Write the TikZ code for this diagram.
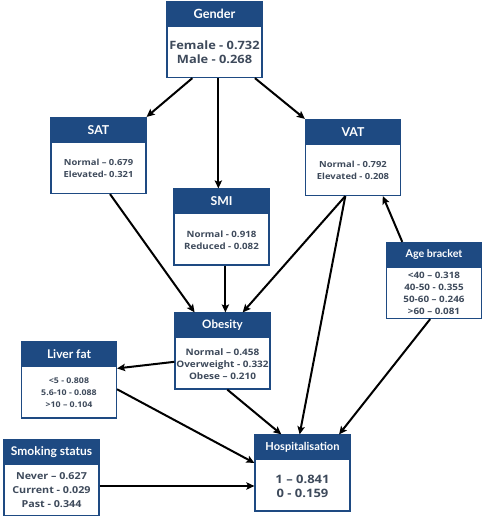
\documentclass[tikz,border=0pt]{standalone}
\usepackage{fontspec}
\setmainfont{Lato}
\newfontfamily\bodyfont[FakeStretch=1.12]{Open Sans}
\usetikzlibrary{arrows.meta,calc}
\definecolor{hdrblue}{HTML}{1E4A82}
\definecolor{bodytxt}{HTML}{3E4A5B}
\newcommand\mkbox[7]{%
  \node[boxbody] (#1) at (#2,#3) {};
  \fill[hdrblue] (#1.north west) rectangle ([yshift=-19.5pt]#1.north east);
  \node[hdrtext,font=\bfseries\fontsize{#7}{10}\selectfont] (#1-t) at ($(#1.north)+(0,-9.75pt)$) {#4};
  \node[bodytext,#6] (#1-b) at ($(#1.center)+(0,-9.75pt)$) {#5};
}
\begin{document}
\begin{tikzpicture}[x=0.75pt,y=-0.75pt,
  boxbody/.style={draw=hdrblue, line width=0.9pt, fill=white, minimum width=71.25pt, minimum height=57pt, inner sep=0pt},
  hdrtext/.style={text=white, inner sep=0pt},
  bodytext/.style={text=bodytxt, align=center, inner sep=0pt},
  fnt/.style 2 args={font=\bodyfont\bfseries\fontsize{#1}{#2}\selectfont},
  arr/.style={-{Stealth[length=6pt,width=5.5pt,inset=1.2pt]}, line width=1.5pt, black}]
\useasboundingbox (0,0) rectangle (484,519);

\mkbox{gender}{214.5}{39.5}{Gender}{Female - 0.732\\Male - 0.268}{fnt={8.6}{10.5}}{9.5}
\mkbox{sat}{98.5}{155.5}{SAT}{Normal – 0.679\\Elevated- 0.321}{fnt={6.3}{8.75}}{9.2}
\mkbox{vat}{353}{157.5}{VAT}{Normal - 0.792\\Elevated - 0.208}{fnt={6.3}{8.75}}{9.2}
\mkbox{smi}{221.5}{227}{SMI}{Normal - 0.918\\Reduced - 0.082}{fnt={6.5}{8.75}}{9.2}
\mkbox{age}{434}{280.5}{Age bracket}{<40 – 0.318\\40-50 - 0.355\\50-60 – 0.246\\>60 – 0.081}{fnt={6.6}{9.1}}{8.0}
\mkbox{obesity}{222.5}{351}{Obesity}{Normal – 0.458\\Overweight - 0.332\\Obese – 0.210}{fnt={6.7}{8.75}}{8.7}
\mkbox{liver}{69}{380}{Liver fat}{<5 - 0.808\\5.6-10 - 0.088\\>10 – 0.104}{fnt={5.9}{9.1}}{9.0}
\mkbox{smoking}{51.5}{477.5}{Smoking status}{Never – 0.627\\Current - 0.029\\Past - 0.344}{fnt={7.2}{10.5}}{9.0}
\mkbox{hosp}{302.5}{473}{Hospitalisation}{1 – 0.841\\0 - 0.159}{fnt={8.7}{10.5}}{8.3}

% connector end points
\coordinate (g1) at ($(gender.south west)!0.27!(gender.south east)$);
\coordinate (g2) at ($(gender.south west)!0.54!(gender.south east)$);
\coordinate (g3) at ($(gender.south west)!0.92!(gender.south east)$);
\coordinate (s1) at ($(sat.south west)!0.62!(sat.south east)$);
\coordinate (o1) at ($(obesity.north west)!0.21!(obesity.north east)$);
\coordinate (o2) at ($(obesity.north west)!0.53!(obesity.north east)$);
\coordinate (o3) at ($(obesity.north west)!0.71!(obesity.north east)$);
\coordinate (v1) at ($(vat.south west)!0.42!(vat.south east)$);
\coordinate (v2) at ($(vat.south west)!0.81!(vat.south east)$);
\coordinate (a1) at ($(age.north west)!0.17!(age.north east)$);
\coordinate (a2) at ($(age.south west)!0.46!(age.south east)$);
\coordinate (h1) at ($(hosp.north west)!0.47!(hosp.north east)$);
\coordinate (h2) at ($(hosp.north west)!0.28!(hosp.north east)$);
\coordinate (h3) at ($(hosp.north west)!0.88!(hosp.north east)$);
\coordinate (ob1) at ($(obesity.north west)!0.64!(obesity.south west)$);
\coordinate (ob2) at ($(obesity.south west)!0.55!(obesity.south east)$);
\coordinate (l1) at ($(liver.north east)!0.35!(liver.south east)$);
\coordinate (l2) at ($(liver.north east)!0.62!(liver.south east)$);
\coordinate (hl) at ($(hosp.north west)!0.37!(hosp.south west)$);

\draw[arr] (g1) -- (sat.north east);
\draw[arr] (g2) -- (g2 |- smi.north);
\draw[arr] (g3) -- (vat.north west);
\draw[arr] (s1) -- (o1);
\draw[arr] (o2 |- smi.south) -- (o2);
\draw[arr] (v1) -- (o3);
\draw[arr] (v1) -- (h1);
\draw[arr] (a1) -- (v2);
\draw[arr] (a2) -- (h3);
\draw[arr] (ob1) -- (l1);
\draw[arr] (ob2) -- (h2);
\draw[arr] (l2) -- (hl);
\draw[arr] (smoking.east |- hosp-b) -- (hosp.west |- hosp-b);
\end{tikzpicture}
\end{document}
